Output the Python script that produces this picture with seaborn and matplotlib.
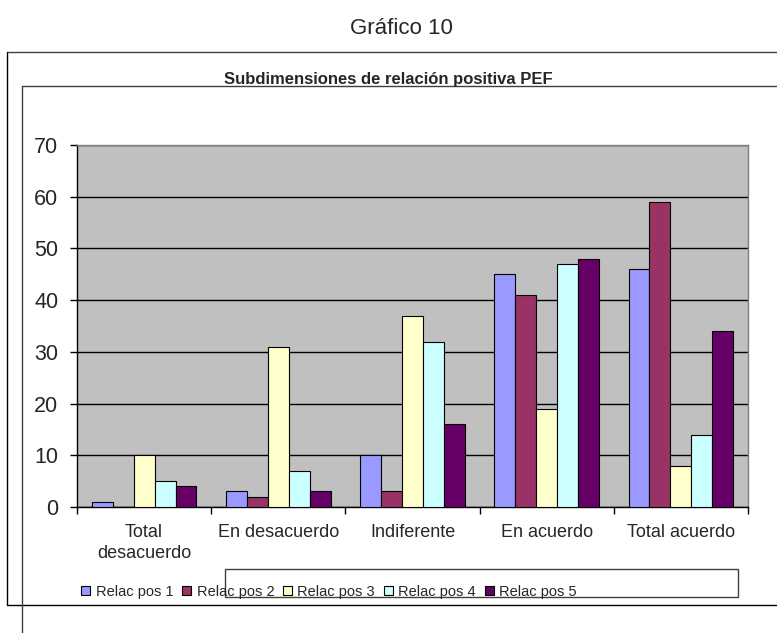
import matplotlib
matplotlib.use("Agg")
import matplotlib.pyplot as plt
from matplotlib.lines import Line2D
from matplotlib.patches import Rectangle
import seaborn as sns
import pandas as pd

categories = ["Total\ndesacuerdo", "En desacuerdo", "Indiferente", "En acuerdo", "Total acuerdo"]
series_names = ["Relac pos 1", "Relac pos 2", "Relac pos 3", "Relac pos 4", "Relac pos 5"]
relac_pos_1 = [1, 3, 10, 45, 46]
relac_pos_2 = [0, 2, 3, 41, 59]
relac_pos_3 = [10, 31, 37, 19, 8]
relac_pos_4 = [5, 7, 32, 47, 14]
relac_pos_5 = [4, 3, 16, 48, 34]
y_ticks = [0, 10, 20, 30, 40, 50, 60, 70]
colors = ["#9999FF", "#993366", "#FFFFCC", "#CCFFFF", "#660066"]

series_values = [relac_pos_1, relac_pos_2, relac_pos_3, relac_pos_4, relac_pos_5]
rows = []
for name, vals in zip(series_names, series_values):
    for cat, v in zip(categories, vals):
        rows.append({"cat": cat, "serie": name, "val": v})
df = pd.DataFrame(rows)

sns.set_style("white")
plt.rcParams["font.family"] = ["Liberation Sans", "DejaVu Sans"]

W, H = 777, 633
fig = plt.figure(figsize=(W / 100, H / 100), dpi=100)
ax = fig.add_axes([77 / W, 1 - 507 / H, (748 - 77) / W, (507 - 145) / H])
ax.set_facecolor("#C0C0C0")

sns.barplot(data=df, x="cat", y="val", hue="serie", order=categories,
            hue_order=series_names, palette=colors, saturation=1, width=0.78, gap=0,
            edgecolor="black", linewidth=0.8, ax=ax, zorder=3)

ax.set_ylim(0, 70)
ax.set_xlim(-0.5, 4.5)
ax.set_yticks(y_ticks)
ax.set_yticklabels([str(t) for t in y_ticks], fontsize=15.5)
ax.yaxis.grid(True, color="black", linewidth=1.0, zorder=1)
ax.set_axisbelow(True)
ax.tick_params(axis="y", direction="out", length=5, width=1, color="black", pad=8.5, left=True)

ax.set_xticks(range(len(categories)))
ax.set_xticklabels(categories, fontsize=13, linespacing=1.3)
ax.tick_params(axis="x", which="major", length=0, pad=12)
ax.set_xticks([i - 0.5 for i in range(len(categories) + 1)], minor=True)
ax.tick_params(axis="x", which="minor", direction="out", length=5, width=1, color="black", bottom=True)
ax.set_xlabel("")
ax.set_ylabel("")

for side in ["left", "bottom"]:
    ax.spines[side].set_color("black")
    ax.spines[side].set_linewidth(1.0)
for side in ["top", "right"]:
    ax.spines[side].set_visible(True)
    ax.spines[side].set_color("#808080")
    ax.spines[side].set_linewidth(1.0)

handles, labels = ax.get_legend_handles_labels()
if ax.get_legend() is not None:
    ax.get_legend().remove()
fig.legend(handles, labels, loc="center", bbox_to_anchor=(329 / W, 1 - 592 / H),
           ncol=5, frameon=False, fontsize=10.5, handlelength=0.6, handleheight=0.6,
           handletextpad=0.4, columnspacing=0.6, borderpad=0, borderaxespad=0)

# Titles
fig.text(401 / W, 1 - 28 / H, "Gráfico 10", ha="center", va="center", fontsize=16)
fig.text(388 / W, 1 - 84 / H, "Subdimensiones de relación positiva PEF", ha="center",
         va="baseline", fontsize=12, fontweight="bold")

# Frame lines
def fl(x0, y0, x1, y1, color="black", lw=1.0):
    fig.add_artist(Line2D([x0 / W, x1 / W], [1 - y0 / H, 1 - y1 / H], color=color, linewidth=lw))

fl(7, 52, 777, 52, color="#404040")
fl(7, 52, 7, 605)
fl(7, 605, 777, 605)
fl(22, 86, 777, 86, color="#404040")
fl(22, 86, 22, 633, color="#404040")
fig.add_artist(Rectangle((225 / W, 1 - 597 / H), (738 - 225) / W, (597 - 569) / H,
                         fill=False, edgecolor="#404040", linewidth=1.0,
                         transform=fig.transFigure))

fig.savefig("out.png", dpi=100)
